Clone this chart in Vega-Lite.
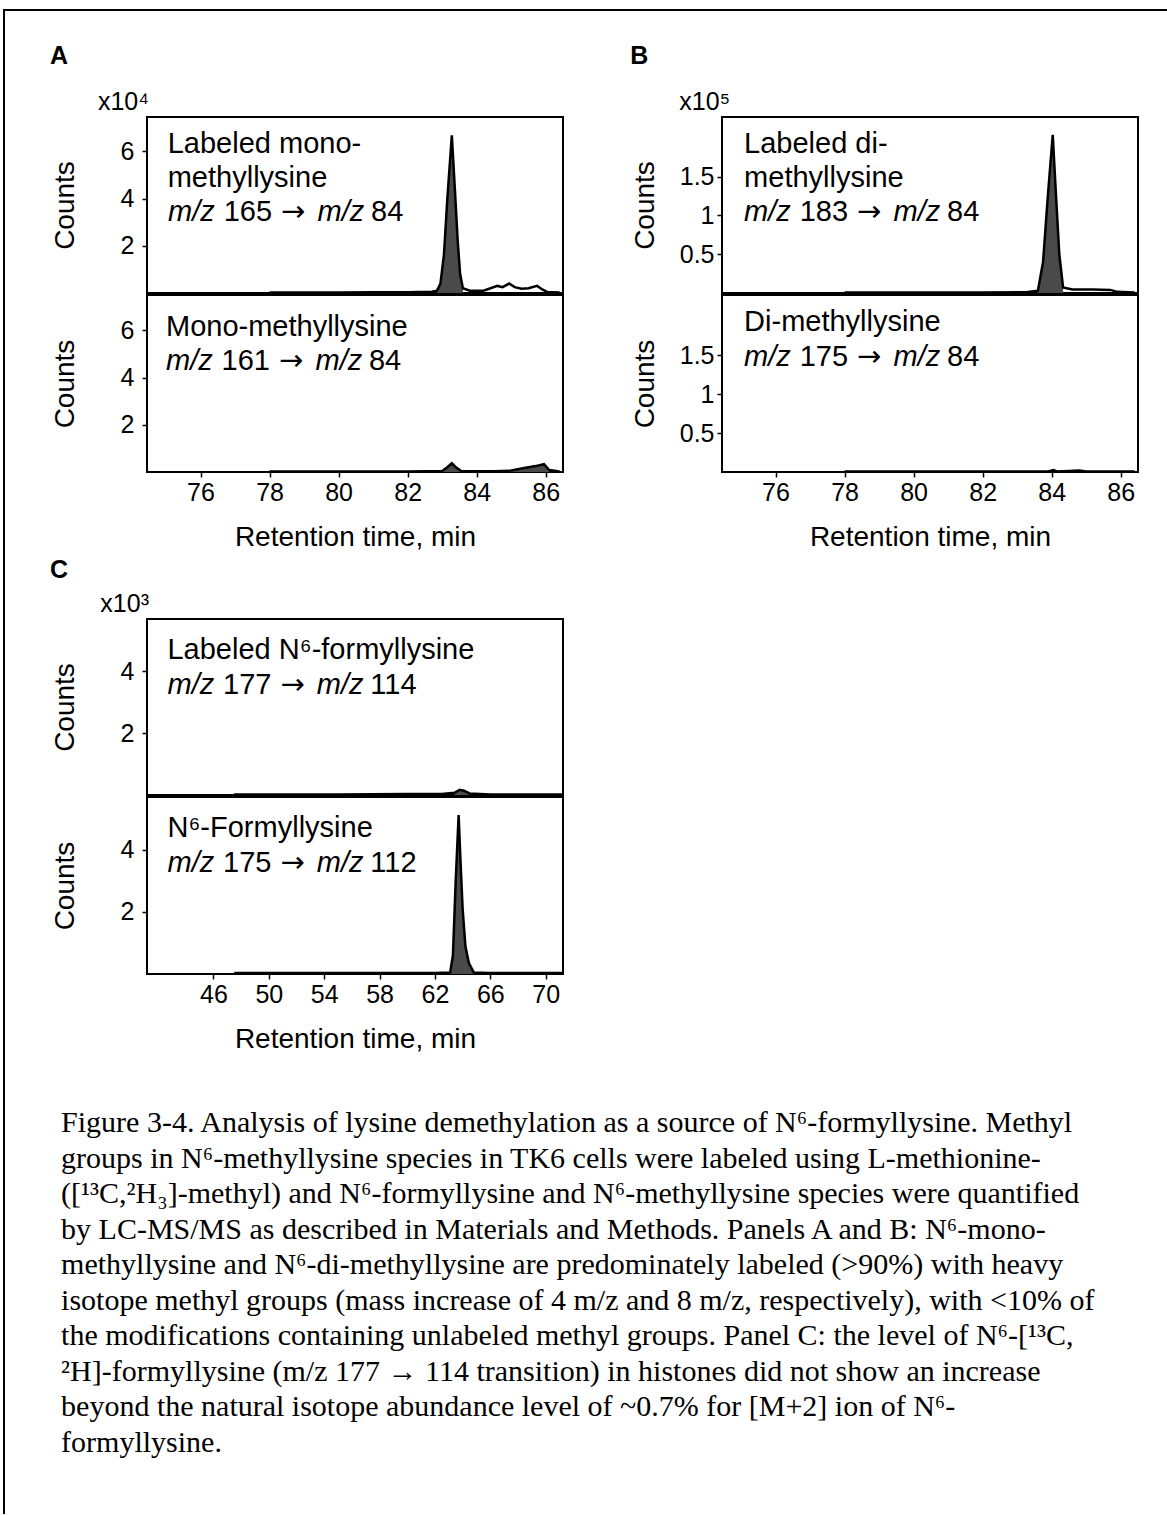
{
  "$schema": "https://vega.github.io/schema/vega-lite/v6.json",
  "padding": {"left": 3, "top": 9, "right": 0, "bottom": 0},
  "background": "white",
  "config": {
    "font": "Liberation Sans",
    "view": {"stroke": "black", "strokeWidth": 2},
    "axis": {"labelFont": "Liberation Sans", "titleFont": "Liberation Sans", "labelFontSize": 25, "titleFontSize": 28, "titleFontWeight": "normal", "labelColor": "black", "titleColor": "black", "tickColor": "black", "domain": false, "grid": false, "tickSize": 5, "tickWidth": 1.5, "labelPadding": 8, "labelOverlap": false, "labelFlush": false},
    "axisX": {"labelPadding": 3},
    "title": {"font": "Liberation Sans", "fontSize": 25, "fontWeight": "bold", "color": "black"},
    "concat": {"spacing": 0}
  },
  "datasets": {
    "traces": [
      {"p": "A1", "t": 78, "c": 0.02}, {"p": "A1", "t": 79, "c": 0.02}, {"p": "A1", "t": 80, "c": 0.02}, {"p": "A1", "t": 81, "c": 0.03}, {"p": "A1", "t": 82, "c": 0.03}, {"p": "A1", "t": 82.7, "c": 0.05}, {"p": "A1", "t": 82.85, "c": 0.1}, {"p": "A1", "t": 82.95, "c": 0.4}, {"p": "A1", "t": 83.05, "c": 1.6}, {"p": "A1", "t": 83.15, "c": 4.0}, {"p": "A1", "t": 83.28, "c": 6.67}, {"p": "A1", "t": 83.36, "c": 4.6}, {"p": "A1", "t": 83.45, "c": 2.2}, {"p": "A1", "t": 83.52, "c": 0.8}, {"p": "A1", "t": 83.6, "c": 0.2}, {"p": "A1", "t": 83.8, "c": 0.1}, {"p": "A1", "t": 84.2, "c": 0.1}, {"p": "A1", "t": 84.4, "c": 0.2}, {"p": "A1", "t": 84.6, "c": 0.3}, {"p": "A1", "t": 84.75, "c": 0.25}, {"p": "A1", "t": 84.94, "c": 0.4}, {"p": "A1", "t": 85.1, "c": 0.25}, {"p": "A1", "t": 85.3, "c": 0.18}, {"p": "A1", "t": 85.5, "c": 0.2}, {"p": "A1", "t": 85.75, "c": 0.3}, {"p": "A1", "t": 85.9, "c": 0.15}, {"p": "A1", "t": 86.05, "c": 0.04}, {"p": "A1", "t": 86.4, "c": 0.02},
      {"p": "A2", "t": 78, "c": 0.02}, {"p": "A2", "t": 82, "c": 0.02}, {"p": "A2", "t": 83.0, "c": 0.04}, {"p": "A2", "t": 83.15, "c": 0.2}, {"p": "A2", "t": 83.28, "c": 0.37}, {"p": "A2", "t": 83.4, "c": 0.2}, {"p": "A2", "t": 83.55, "c": 0.04}, {"p": "A2", "t": 84.5, "c": 0.03}, {"p": "A2", "t": 85.0, "c": 0.06}, {"p": "A2", "t": 85.3, "c": 0.15}, {"p": "A2", "t": 85.7, "c": 0.25}, {"p": "A2", "t": 85.95, "c": 0.33}, {"p": "A2", "t": 86.1, "c": 0.08}, {"p": "A2", "t": 86.4, "c": 0.02},
      {"p": "B1", "t": 78, "c": 0.006}, {"p": "B1", "t": 80, "c": 0.006}, {"p": "B1", "t": 82, "c": 0.008}, {"p": "B1", "t": 83.3, "c": 0.012}, {"p": "B1", "t": 83.6, "c": 0.03}, {"p": "B1", "t": 83.75, "c": 0.4}, {"p": "B1", "t": 83.88, "c": 1.2}, {"p": "B1", "t": 84.03, "c": 2.04}, {"p": "B1", "t": 84.12, "c": 1.3}, {"p": "B1", "t": 84.22, "c": 0.5}, {"p": "B1", "t": 84.33, "c": 0.07}, {"p": "B1", "t": 84.6, "c": 0.045}, {"p": "B1", "t": 85.2, "c": 0.045}, {"p": "B1", "t": 85.7, "c": 0.04}, {"p": "B1", "t": 85.9, "c": 0.015}, {"p": "B1", "t": 86.4, "c": 0.006},
      {"p": "B2", "t": 78, "c": 0.006}, {"p": "B2", "t": 83.9, "c": 0.006}, {"p": "B2", "t": 84.05, "c": 0.025}, {"p": "B2", "t": 84.15, "c": 0.008}, {"p": "B2", "t": 84.5, "c": 0.012}, {"p": "B2", "t": 84.8, "c": 0.018}, {"p": "B2", "t": 85.0, "c": 0.006}, {"p": "B2", "t": 86.4, "c": 0.006},
      {"p": "C1", "t": 47.5, "c": 0.02}, {"p": "C1", "t": 55, "c": 0.02}, {"p": "C1", "t": 60, "c": 0.03}, {"p": "C1", "t": 62.5, "c": 0.03}, {"p": "C1", "t": 63.4, "c": 0.07}, {"p": "C1", "t": 63.8, "c": 0.17}, {"p": "C1", "t": 64.1, "c": 0.14}, {"p": "C1", "t": 64.5, "c": 0.05}, {"p": "C1", "t": 66, "c": 0.02}, {"p": "C1", "t": 71.2, "c": 0.02},
      {"p": "C2", "t": 47.5, "c": 0.03}, {"p": "C2", "t": 52, "c": 0.03}, {"p": "C2", "t": 58, "c": 0.03}, {"p": "C2", "t": 62, "c": 0.03}, {"p": "C2", "t": 63.1, "c": 0.05}, {"p": "C2", "t": 63.3, "c": 0.6}, {"p": "C2", "t": 63.5, "c": 3.0}, {"p": "C2", "t": 63.71, "c": 5.12}, {"p": "C2", "t": 63.85, "c": 3.6}, {"p": "C2", "t": 64.0, "c": 2.1}, {"p": "C2", "t": 64.2, "c": 0.9}, {"p": "C2", "t": 64.45, "c": 0.35}, {"p": "C2", "t": 64.8, "c": 0.05}, {"p": "C2", "t": 66, "c": 0.03}, {"p": "C2", "t": 71.2, "c": 0.03}
    ],
    "peaks": [
      {"p": "A1", "g": 1, "t": 82.85, "c": 0.1}, {"p": "A1", "g": 1, "t": 82.95, "c": 0.4}, {"p": "A1", "g": 1, "t": 83.05, "c": 1.6}, {"p": "A1", "g": 1, "t": 83.15, "c": 4.0}, {"p": "A1", "g": 1, "t": 83.28, "c": 6.67}, {"p": "A1", "g": 1, "t": 83.36, "c": 4.6}, {"p": "A1", "g": 1, "t": 83.45, "c": 2.2}, {"p": "A1", "g": 1, "t": 83.52, "c": 0.8}, {"p": "A1", "g": 1, "t": 83.6, "c": 0.2},
      {"p": "A2", "g": 1, "t": 83.0, "c": 0.04}, {"p": "A2", "g": 1, "t": 83.15, "c": 0.2}, {"p": "A2", "g": 1, "t": 83.28, "c": 0.37}, {"p": "A2", "g": 1, "t": 83.4, "c": 0.2}, {"p": "A2", "g": 1, "t": 83.55, "c": 0.04},
      {"p": "A2", "g": 2, "t": 85.0, "c": 0.06}, {"p": "A2", "g": 2, "t": 85.3, "c": 0.15}, {"p": "A2", "g": 2, "t": 85.7, "c": 0.25}, {"p": "A2", "g": 2, "t": 85.95, "c": 0.33}, {"p": "A2", "g": 2, "t": 86.1, "c": 0.08},
      {"p": "B1", "g": 1, "t": 83.6, "c": 0.03}, {"p": "B1", "g": 1, "t": 83.75, "c": 0.4}, {"p": "B1", "g": 1, "t": 83.88, "c": 1.2}, {"p": "B1", "g": 1, "t": 84.03, "c": 2.04}, {"p": "B1", "g": 1, "t": 84.12, "c": 1.3}, {"p": "B1", "g": 1, "t": 84.22, "c": 0.5}, {"p": "B1", "g": 1, "t": 84.33, "c": 0.07},
      {"p": "C1", "g": 1, "t": 63.4, "c": 0.07}, {"p": "C1", "g": 1, "t": 63.8, "c": 0.17}, {"p": "C1", "g": 1, "t": 64.1, "c": 0.14}, {"p": "C1", "g": 1, "t": 64.5, "c": 0.05},
      {"p": "C2", "g": 1, "t": 63.1, "c": 0.05}, {"p": "C2", "g": 1, "t": 63.3, "c": 0.6}, {"p": "C2", "g": 1, "t": 63.5, "c": 3.0}, {"p": "C2", "g": 1, "t": 63.71, "c": 5.12}, {"p": "C2", "g": 1, "t": 63.85, "c": 3.6}, {"p": "C2", "g": 1, "t": 64.0, "c": 2.1}, {"p": "C2", "g": 1, "t": 64.2, "c": 0.9}, {"p": "C2", "g": 1, "t": 64.45, "c": 0.35}, {"p": "C2", "g": 1, "t": 64.8, "c": 0.05}
    ],
    "labels": [
      {"p": "A1", "t": 75.05, "c": 6.31, "text": "Labeled mono-"}, {"p": "A1", "t": 75.05, "c": 4.86, "text": "methyllysine"},
      {"p": "A1", "t": 75.06, "c": 3.43, "text": "m/z"}, {"p": "A1", "t": 76.67, "c": 3.43, "text": "165"}, {"p": "A1", "t": 78.33, "c": 3.43, "text": "→"}, {"p": "A1", "t": 79.39, "c": 3.43, "text": "m/z"}, {"p": "A1", "t": 80.94, "c": 3.43, "text": "84"},
      {"p": "A2", "t": 75.0, "c": 6.14, "text": "Mono-methyllysine"},
      {"p": "A2", "t": 75.0, "c": 4.71, "text": "m/z"}, {"p": "A2", "t": 76.61, "c": 4.71, "text": "161"}, {"p": "A2", "t": 78.27, "c": 4.71, "text": "→"}, {"p": "A2", "t": 79.33, "c": 4.71, "text": "m/z"}, {"p": "A2", "t": 80.88, "c": 4.71, "text": "84"},
      {"p": "B1", "t": 75.09, "c": 1.92, "text": "Labeled di-"}, {"p": "B1", "t": 75.09, "c": 1.48, "text": "methyllysine"},
      {"p": "B1", "t": 75.09, "c": 1.04, "text": "m/z"}, {"p": "B1", "t": 76.70, "c": 1.04, "text": "183"}, {"p": "B1", "t": 78.36, "c": 1.04, "text": "→"}, {"p": "B1", "t": 79.42, "c": 1.04, "text": "m/z"}, {"p": "B1", "t": 80.97, "c": 1.04, "text": "84"},
      {"p": "B2", "t": 75.09, "c": 1.92, "text": "Di-methyllysine"},
      {"p": "B2", "t": 75.09, "c": 1.48, "text": "m/z"}, {"p": "B2", "t": 76.70, "c": 1.48, "text": "175"}, {"p": "B2", "t": 78.36, "c": 1.48, "text": "→"}, {"p": "B2", "t": 79.42, "c": 1.48, "text": "m/z"}, {"p": "B2", "t": 80.97, "c": 1.48, "text": "84"},
      {"p": "C1", "t": 42.68, "c": 4.69, "text": "Labeled N⁶-formyllysine"},
      {"p": "C1", "t": 42.68, "c": 3.56, "text": "m/z"}, {"p": "C1", "t": 46.69, "c": 3.56, "text": "177"}, {"p": "C1", "t": 50.84, "c": 3.56, "text": "→"}, {"p": "C1", "t": 53.46, "c": 3.56, "text": "m/z"}, {"p": "C1", "t": 57.33, "c": 3.56, "text": "114"},
      {"p": "C2", "t": 42.68, "c": 4.70, "text": "N⁶-Formyllysine"},
      {"p": "C2", "t": 42.68, "c": 3.58, "text": "m/z"}, {"p": "C2", "t": 46.69, "c": 3.58, "text": "175"}, {"p": "C2", "t": 50.84, "c": 3.58, "text": "→"}, {"p": "C2", "t": 53.46, "c": 3.58, "text": "m/z"}, {"p": "C2", "t": 57.33, "c": 3.58, "text": "112"}
    ]
  },
  "vconcat": [
    {"width": 1164, "height": 2, "view": {"stroke": null}, "data": {"values": [{}]}, "mark": {"type": "rect", "color": "black"}, "encoding": {}},
    {
      "spacing": 45,
      "hconcat": [
        {"width": 2, "height": 1503, "view": {"stroke": null}, "data": {"values": [{}]}, "mark": {"type": "rect", "color": "black"}, "encoding": {}},
        {
          "title": {
            "text": [
              "Figure 3-4.  Analysis of lysine demethylation as a source of N⁶-formyllysine.  Methyl",
              "groups in N⁶-methyllysine species in TK6 cells were labeled using L-methionine-",
              "([¹³C,²H₃]-methyl) and N⁶-formyllysine and N⁶-methyllysine species were quantified",
              "by LC-MS/MS as described in Materials and Methods.  Panels A and B: N⁶-mono-",
              "methyllysine and N⁶-di-methyllysine are predominately labeled (>90%) with heavy",
              "isotope methyl groups (mass increase of 4 m/z and 8 m/z, respectively), with <10% of",
              "the modifications containing unlabeled methyl groups.  Panel C: the level of N⁶-[¹³C,",
              "²H]-formyllysine (m/z 177 → 114 transition) in histones did not show an increase",
              "beyond the natural isotope abundance level of ~0.7% for [M+2] ion of N⁶-",
              "formyllysine."
            ],
            "orient": "bottom", "anchor": "start", "align": "left", "frame": "bounds", "dx": 11,
            "font": "Liberation Serif", "fontSize": 30, "fontWeight": "normal", "lineHeight": 35.5, "offset": 54, "color": "black"
          },
          "spacing": 32,
          "vconcat": [
            {"width": 1, "height": 1, "view": {"stroke": null}, "data": {"values": []}, "mark": "point"},
            {
              "spacing": 6,
              "vconcat": [
                {
                  "spacing": 66,
                  "hconcat": [
                    {
                      "title": {"text": "A", "anchor": "start", "offset": 20},
                      "vconcat": [
                        {
                          "width": 416, "height": 176,
                          "title": {"text": "x10⁴", "anchor": "start", "frame": "group", "align": "right", "dx": 2, "fontSize": 25, "fontWeight": "normal", "offset": 2},
                          "layer": [
                            {"data": {"name": "peaks"}, "transform": [{"filter": "datum.p == 'A1'"}], "mark": {"type": "area", "color": "#4a4a4a", "clip": true},
                             "encoding": {"x": {"field": "t", "type": "quantitative", "scale": {"domain": [74.45, 86.5], "nice": false, "zero": false}, "axis": null}, "y": {"field": "c", "type": "quantitative", "scale": {"domain": [0, 7.45], "nice": false}, "axis": {"title": "Counts", "values": [2, 4, 6], "titlePadding": 41}}, "detail": {"field": "g"}}},
                            {"data": {"name": "traces"}, "transform": [{"filter": "datum.p == 'A1'"}], "mark": {"type": "line", "color": "black", "strokeWidth": 2.5, "clip": true},
                             "encoding": {"x": {"field": "t", "type": "quantitative"}, "y": {"field": "c", "type": "quantitative"}}},
                            {"data": {"name": "labels"}, "transform": [{"filter": "datum.p == 'A1' && datum.text != 'm/z' && datum.text != '→'"}], "mark": {"type": "text", "align": "left", "baseline": "middle", "fontSize": 29},
                             "encoding": {"x": {"field": "t", "type": "quantitative"}, "y": {"field": "c", "type": "quantitative"}, "text": {"field": "text"}}},
                            {"data": {"name": "labels"}, "transform": [{"filter": "datum.p == 'A1' && datum.text == 'm/z'"}], "mark": {"type": "text", "align": "left", "baseline": "middle", "fontSize": 29, "fontStyle": "italic"},
                             "encoding": {"x": {"field": "t", "type": "quantitative"}, "y": {"field": "c", "type": "quantitative"}, "text": {"field": "text"}}},
                            {"data": {"name": "labels"}, "transform": [{"filter": "datum.p == 'A1' && datum.text == '→'"}], "mark": {"type": "text", "align": "left", "baseline": "middle", "fontSize": 29, "font": "DejaVu Sans"},
                             "encoding": {"x": {"field": "t", "type": "quantitative"}, "y": {"field": "c", "type": "quantitative"}, "text": {"field": "text"}}}
                          ]
                        },
                        {
                          "width": 416, "height": 177,
                          "layer": [
                            {"data": {"name": "peaks"}, "transform": [{"filter": "datum.p == 'A2'"}], "mark": {"type": "area", "color": "#4a4a4a", "clip": true},
                             "encoding": {"x": {"field": "t", "type": "quantitative", "scale": {"domain": [74.45, 86.5], "nice": false, "zero": false}, "axis": {"title": "Retention time, min", "values": [76, 78, 80, 82, 84, 86], "titlePadding": 18}}, "y": {"field": "c", "type": "quantitative", "scale": {"domain": [0, 7.5], "nice": false}, "axis": {"title": "Counts", "values": [2, 4, 6], "titlePadding": 41}}, "detail": {"field": "g"}}},
                            {"data": {"name": "traces"}, "transform": [{"filter": "datum.p == 'A2'"}], "mark": {"type": "line", "color": "black", "strokeWidth": 2.5, "clip": true},
                             "encoding": {"x": {"field": "t", "type": "quantitative"}, "y": {"field": "c", "type": "quantitative"}}},
                            {"data": {"name": "labels"}, "transform": [{"filter": "datum.p == 'A2' && datum.text != 'm/z' && datum.text != '→'"}], "mark": {"type": "text", "align": "left", "baseline": "middle", "fontSize": 29},
                             "encoding": {"x": {"field": "t", "type": "quantitative"}, "y": {"field": "c", "type": "quantitative"}, "text": {"field": "text"}}},
                            {"data": {"name": "labels"}, "transform": [{"filter": "datum.p == 'A2' && datum.text == 'm/z'"}], "mark": {"type": "text", "align": "left", "baseline": "middle", "fontSize": 29, "fontStyle": "italic"},
                             "encoding": {"x": {"field": "t", "type": "quantitative"}, "y": {"field": "c", "type": "quantitative"}, "text": {"field": "text"}}},
                            {"data": {"name": "labels"}, "transform": [{"filter": "datum.p == 'A2' && datum.text == '→'"}], "mark": {"type": "text", "align": "left", "baseline": "middle", "fontSize": 29, "font": "DejaVu Sans"},
                             "encoding": {"x": {"field": "t", "type": "quantitative"}, "y": {"field": "c", "type": "quantitative"}, "text": {"field": "text"}}}
                          ]
                        }
                      ]
                    },
                    {
                      "title": {"text": "B", "anchor": "start", "offset": 20},
                      "vconcat": [
                        {
                          "width": 416, "height": 176,
                          "title": {"text": "x10⁵", "anchor": "start", "frame": "group", "align": "right", "dx": 8, "fontSize": 25, "fontWeight": "normal", "offset": 2},
                          "layer": [
                            {"data": {"name": "peaks"}, "transform": [{"filter": "datum.p == 'B1'"}], "mark": {"type": "area", "color": "#4a4a4a", "clip": true},
                             "encoding": {"x": {"field": "t", "type": "quantitative", "scale": {"domain": [74.45, 86.5], "nice": false, "zero": false}, "axis": null}, "y": {"field": "c", "type": "quantitative", "scale": {"domain": [0, 2.27], "nice": false}, "axis": {"title": "Counts", "format": "~g", "values": [0.5, 1, 1.5], "labelPadding": 3, "titlePadding": 20}}, "detail": {"field": "g"}}},
                            {"data": {"name": "traces"}, "transform": [{"filter": "datum.p == 'B1'"}], "mark": {"type": "line", "color": "black", "strokeWidth": 2.5, "clip": true},
                             "encoding": {"x": {"field": "t", "type": "quantitative"}, "y": {"field": "c", "type": "quantitative"}}},
                            {"data": {"name": "labels"}, "transform": [{"filter": "datum.p == 'B1' && datum.text != 'm/z' && datum.text != '→'"}], "mark": {"type": "text", "align": "left", "baseline": "middle", "fontSize": 29},
                             "encoding": {"x": {"field": "t", "type": "quantitative"}, "y": {"field": "c", "type": "quantitative"}, "text": {"field": "text"}}},
                            {"data": {"name": "labels"}, "transform": [{"filter": "datum.p == 'B1' && datum.text == 'm/z'"}], "mark": {"type": "text", "align": "left", "baseline": "middle", "fontSize": 29, "fontStyle": "italic"},
                             "encoding": {"x": {"field": "t", "type": "quantitative"}, "y": {"field": "c", "type": "quantitative"}, "text": {"field": "text"}}},
                            {"data": {"name": "labels"}, "transform": [{"filter": "datum.p == 'B1' && datum.text == '→'"}], "mark": {"type": "text", "align": "left", "baseline": "middle", "fontSize": 29, "font": "DejaVu Sans"},
                             "encoding": {"x": {"field": "t", "type": "quantitative"}, "y": {"field": "c", "type": "quantitative"}, "text": {"field": "text"}}}
                          ]
                        },
                        {
                          "width": 416, "height": 177,
                          "layer": [
                            {"data": {"name": "traces"}, "transform": [{"filter": "datum.p == 'B2'"}], "mark": {"type": "line", "color": "black", "strokeWidth": 2.5, "clip": true},
                             "encoding": {"x": {"field": "t", "type": "quantitative", "scale": {"domain": [74.45, 86.5], "nice": false, "zero": false}, "axis": {"title": "Retention time, min", "values": [76, 78, 80, 82, 84, 86], "titlePadding": 18}}, "y": {"field": "c", "type": "quantitative", "scale": {"domain": [0, 2.27], "nice": false}, "axis": {"title": "Counts", "format": "~g", "values": [0.5, 1, 1.5], "labelPadding": 3, "titlePadding": 20}}}},
                            {"data": {"name": "labels"}, "transform": [{"filter": "datum.p == 'B2' && datum.text != 'm/z' && datum.text != '→'"}], "mark": {"type": "text", "align": "left", "baseline": "middle", "fontSize": 29},
                             "encoding": {"x": {"field": "t", "type": "quantitative"}, "y": {"field": "c", "type": "quantitative"}, "text": {"field": "text"}}},
                            {"data": {"name": "labels"}, "transform": [{"filter": "datum.p == 'B2' && datum.text == 'm/z'"}], "mark": {"type": "text", "align": "left", "baseline": "middle", "fontSize": 29, "fontStyle": "italic"},
                             "encoding": {"x": {"field": "t", "type": "quantitative"}, "y": {"field": "c", "type": "quantitative"}, "text": {"field": "text"}}},
                            {"data": {"name": "labels"}, "transform": [{"filter": "datum.p == 'B2' && datum.text == '→'"}], "mark": {"type": "text", "align": "left", "baseline": "middle", "fontSize": 29, "font": "DejaVu Sans"},
                             "encoding": {"x": {"field": "t", "type": "quantitative"}, "y": {"field": "c", "type": "quantitative"}, "text": {"field": "text"}}}
                          ]
                        }
                      ]
                    }
                  ]
                },
                {
                  "title": {"text": "C", "anchor": "start", "offset": 8},
                  "vconcat": [
                    {
                      "width": 416, "height": 176,
                      "title": {"text": "x10³", "anchor": "start", "frame": "group", "align": "right", "dx": 2, "fontSize": 25, "fontWeight": "normal", "offset": 2},
                      "layer": [
                        {"data": {"name": "peaks"}, "transform": [{"filter": "datum.p == 'C1'"}], "mark": {"type": "area", "color": "#4a4a4a", "clip": true},
                         "encoding": {"x": {"field": "t", "type": "quantitative", "scale": {"domain": [41.2, 71.25], "nice": false, "zero": false}, "axis": null}, "y": {"field": "c", "type": "quantitative", "scale": {"domain": [0, 5.7], "nice": false}, "axis": {"title": "Counts", "values": [2, 4], "titlePadding": 41}}, "detail": {"field": "g"}}},
                        {"data": {"name": "traces"}, "transform": [{"filter": "datum.p == 'C1'"}], "mark": {"type": "line", "color": "black", "strokeWidth": 2.5, "clip": true},
                         "encoding": {"x": {"field": "t", "type": "quantitative"}, "y": {"field": "c", "type": "quantitative"}}},
                        {"data": {"name": "labels"}, "transform": [{"filter": "datum.p == 'C1' && datum.text != 'm/z' && datum.text != '→'"}], "mark": {"type": "text", "align": "left", "baseline": "middle", "fontSize": 29},
                         "encoding": {"x": {"field": "t", "type": "quantitative"}, "y": {"field": "c", "type": "quantitative"}, "text": {"field": "text"}}},
                        {"data": {"name": "labels"}, "transform": [{"filter": "datum.p == 'C1' && datum.text == 'm/z'"}], "mark": {"type": "text", "align": "left", "baseline": "middle", "fontSize": 29, "fontStyle": "italic"},
                         "encoding": {"x": {"field": "t", "type": "quantitative"}, "y": {"field": "c", "type": "quantitative"}, "text": {"field": "text"}}},
                        {"data": {"name": "labels"}, "transform": [{"filter": "datum.p == 'C1' && datum.text == '→'"}], "mark": {"type": "text", "align": "left", "baseline": "middle", "fontSize": 29, "font": "DejaVu Sans"},
                         "encoding": {"x": {"field": "t", "type": "quantitative"}, "y": {"field": "c", "type": "quantitative"}, "text": {"field": "text"}}}
                      ]
                    },
                    {
                      "width": 416, "height": 177,
                      "layer": [
                        {"data": {"name": "peaks"}, "transform": [{"filter": "datum.p == 'C2'"}], "mark": {"type": "area", "color": "#4a4a4a", "clip": true},
                         "encoding": {"x": {"field": "t", "type": "quantitative", "scale": {"domain": [41.2, 71.25], "nice": false, "zero": false}, "axis": {"title": "Retention time, min", "values": [46, 50, 54, 58, 62, 66, 70], "titlePadding": 18}}, "y": {"field": "c", "type": "quantitative", "scale": {"domain": [0, 5.7], "nice": false}, "axis": {"title": "Counts", "values": [2, 4], "titlePadding": 41}}, "detail": {"field": "g"}}},
                        {"data": {"name": "traces"}, "transform": [{"filter": "datum.p == 'C2'"}], "mark": {"type": "line", "color": "black", "strokeWidth": 2.5, "clip": true},
                         "encoding": {"x": {"field": "t", "type": "quantitative"}, "y": {"field": "c", "type": "quantitative"}}},
                        {"data": {"name": "labels"}, "transform": [{"filter": "datum.p == 'C2' && datum.text != 'm/z' && datum.text != '→'"}], "mark": {"type": "text", "align": "left", "baseline": "middle", "fontSize": 29},
                         "encoding": {"x": {"field": "t", "type": "quantitative"}, "y": {"field": "c", "type": "quantitative"}, "text": {"field": "text"}}},
                        {"data": {"name": "labels"}, "transform": [{"filter": "datum.p == 'C2' && datum.text == 'm/z'"}], "mark": {"type": "text", "align": "left", "baseline": "middle", "fontSize": 29, "fontStyle": "italic"},
                         "encoding": {"x": {"field": "t", "type": "quantitative"}, "y": {"field": "c", "type": "quantitative"}, "text": {"field": "text"}}},
                        {"data": {"name": "labels"}, "transform": [{"filter": "datum.p == 'C2' && datum.text == '→'"}], "mark": {"type": "text", "align": "left", "baseline": "middle", "fontSize": 29, "font": "DejaVu Sans"},
                         "encoding": {"x": {"field": "t", "type": "quantitative"}, "y": {"field": "c", "type": "quantitative"}, "text": {"field": "text"}}}
                      ]
                    }
                  ]
                }
              ]
            }
          ]
        }
      ]
    }
  ],
  "spacing": 0
}
